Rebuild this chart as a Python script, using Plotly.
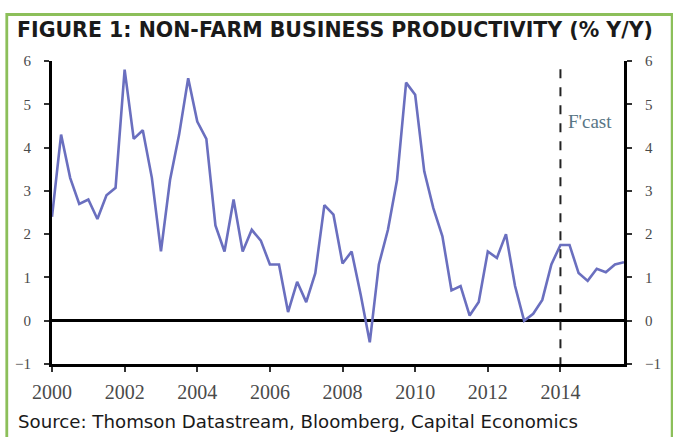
import plotly.graph_objects as go

# Quarterly data 2000Q1 - 2015Q4 (% y/y)
start_year = 2000
quarters = [start_year + i / 4 for i in range(64)]
productivity = [
    2.4, 4.3, 3.3, 2.7, 2.8, 2.35, 2.9, 3.07,
    5.8, 4.2, 4.4, 3.3, 1.6, 3.25, 4.3, 5.6,
    4.6, 4.2, 2.2, 1.6, 2.8, 1.6, 2.1, 1.85,
    1.3, 1.3, 0.2, 0.9, 0.43, 1.1, 2.67, 2.45,
    1.32, 1.6, 0.6, -0.5, 1.3, 2.1, 3.25, 5.5,
    5.22, 3.45, 2.6, 1.95, 0.7, 0.8, 0.12, 0.43,
    1.6, 1.45, 2.0, 0.8, 0.0, 0.16, 0.48, 1.3,
    1.75, 1.75, 1.1, 0.92, 1.2, 1.12, 1.3, 1.35,
]
forecast_start = 2014
x_ticks = [2000, 2002, 2004, 2006, 2008, 2010, 2012, 2014]
y_ticks = [-1, 0, 1, 2, 3, 4, 5, 6]

title_text = "FIGURE 1: NON-FARM BUSINESS PRODUCTIVITY (% Y/Y)"
source_text = "Source: Thomson Datastream, Bloomberg, Capital Economics"
forecast_label = "F'cast"

W, H = 673, 437
AX_L, AX_R, AX_T, AX_B = 52, 634, 61, 364   # plot-area edges in window px
L, R, T, B = AX_L, W - AX_R, AX_T, H - AX_B
pw, ph = W - L - R, H - T - B


def px_x(p):
    return (p - L) / pw


def px_y(p):
    return (H - B - p) / ph


fig = go.Figure()
fig.add_trace(go.Scatter(
    x=quarters, y=productivity, mode="lines",
    line=dict(color="#6a6fbf", width=2.6),
    hoverinfo="skip", showlegend=False,
))
# invisible trace for right axis
fig.add_trace(go.Scatter(
    x=[quarters[0]], y=[productivity[0]], yaxis="y2", mode="lines",
    line=dict(width=0), hoverinfo="skip", showlegend=False,
))

tick_font = dict(family="Liberation Serif", size=15, color="#4a4a4a")

fig.update_layout(
    width=W, height=H,
    margin=dict(l=L, r=R, t=T, b=B),
    paper_bgcolor="white", plot_bgcolor="white",
    title=dict(
        text=title_text, xref="container", yref="container",
        x=17 / W, xanchor="left", y=1 - 30 / H, yanchor="middle",
        font=dict(family="DejaVu Sans", size=20.5, color="#1a1a1a", weight="bold"),
    ),
    xaxis=dict(
        range=[quarters[0], quarters[-1]],
        tickvals=x_ticks, ticktext=[str(v) for v in x_ticks],
        showgrid=False, zeroline=False,
        showline=True, linecolor="black", linewidth=3,
        ticks="outside", ticklen=5, tickwidth=2, tickcolor="#333",
        tickfont=dict(family="Liberation Serif", size=20, color="#4a4a4a"),
        ticklabelstandoff=3,
    ),
    yaxis=dict(
        range=[-1, 6], tickvals=y_ticks,
        showgrid=False, zeroline=True, zerolinecolor="black", zerolinewidth=3,
        showline=True, linecolor="black", linewidth=3,
        ticks="outside", ticklen=5, tickwidth=2, tickcolor="#333",
        tickfont=tick_font, ticklabelstandoff=10,
    ),
    yaxis2=dict(
        range=[-1, 6], tickvals=y_ticks, overlaying="y", side="right",
        showgrid=False, zeroline=False,
        showline=True, linecolor="black", linewidth=3,
        ticks="outside", ticklen=5, tickwidth=2, tickcolor="#333",
        tickfont=tick_font, ticklabelstandoff=10,
    ),
    shapes=[
        dict(type="line", xref="x", yref="y", x0=forecast_start, x1=forecast_start,
             y0=-1.05, y1=5.87, line=dict(color="#222", width=2, dash="dash")),
        dict(type="rect", xref="paper", yref="paper", layer="below",
             x0=px_x(6), x1=px_x(W + 10), y0=px_y(14.5), y1=px_y(H + 10),
             line=dict(color="#8cbf5a", width=2.8), fillcolor="rgba(0,0,0,0)"),
    ],
    annotations=[
        dict(text=forecast_label, x=forecast_start, y=4.6, xref="x", yref="y",
             xanchor="left", yanchor="middle", xshift=6, showarrow=False,
             font=dict(family="Liberation Serif", size=19, color="#587585")),
        dict(text=source_text, xref="paper", yref="paper",
             x=px_x(15), y=px_y(421), xanchor="left", yanchor="middle",
             showarrow=False,
             font=dict(family="DejaVu Sans", size=18.2, color="#1a1a1a")),
    ],
)

# remove the browser's default 8px body margin so the figure fills the window
fig.write_html(
    "out.html",
    config={"displayModeBar": False},
    post_script="document.body.style.margin='0px';",
)
